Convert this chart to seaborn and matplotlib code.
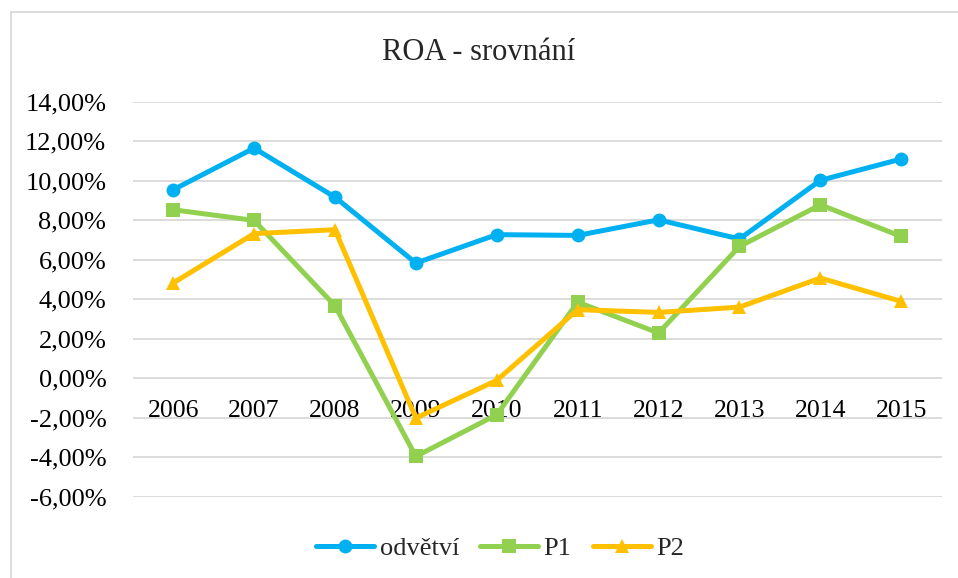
import matplotlib
matplotlib.use("Agg")
import matplotlib.pyplot as plt
import seaborn as sns
import pandas as pd
from matplotlib.ticker import FuncFormatter
from matplotlib.patches import Rectangle

years = ["2006", "2007", "2008", "2009", "2010", "2011", "2012", "2013", "2014", "2015"]
odvetvi = [9.54, 11.65, 9.17, 5.83, 7.27, 7.23, 8.02, 7.05, 10.02, 11.10]
p1 = [8.53, 7.99, 3.67, -3.96, -1.85, 3.85, 2.29, 6.67, 8.78, 7.18]
p2 = [4.82, 7.32, 7.52, -2.02, -0.11, 3.47, 3.33, 3.60, 5.07, 3.89]
series_names = ["odvětví", "P1", "P2"]
colors = ["#00B0F0", "#92D050", "#FFC000"]
markers = ["o", "s", "^"]

rows = []
for name, vals in zip(series_names, [odvetvi, p1, p2]):
    for i, (y, v) in enumerate(zip(years, vals)):
        rows.append({"idx": i, "year": y, "value": v, "series": name})
df = pd.DataFrame(rows)

sns.set_style("white")
plt.rcParams["font.family"] = ["Liberation Serif", "DejaVu Serif"]

fig = plt.figure(figsize=(9.58, 5.78), dpi=100)
ax = fig.add_axes([0.1385, 0.1407, 0.983 - 0.1385, 0.824 - 0.1407])

sns.lineplot(data=df, x="idx", y="value", hue="series", style="series",
             palette=colors, markers=markers, dashes=False, linewidth=3.6,
             markersize=10, markeredgewidth=0, ax=ax, sort=False)

ax.set_xlim(-0.5, len(years) - 0.5)
ax.set_ylim(-6, 14)
ax.set_yticks(range(-6, 15, 2))
ax.yaxis.set_major_formatter(FuncFormatter(lambda v, p: f"{v:.2f}%".replace(".", ",")))
ax.grid(axis="y", color="#D9D9D9", linewidth=1.3)
ax.set_axisbelow(True)
for s in ax.spines.values():
    s.set_visible(False)
ax.spines["bottom"].set_position(("data", 0))
ax.set_xticks(range(len(years)))
ax.set_xticklabels(years)
ax.tick_params(axis="x", length=0, pad=16, labelsize=18.5, colors="black")
ax.tick_params(axis="y", length=0, pad=19, labelsize=19, colors="black")
ax.set_xlabel("")
ax.set_ylabel("")

fig.text(0.5, 0.91, "ROA - srovnání", ha="center", va="center", fontsize=22)

handles, labels = ax.get_legend_handles_labels()
ax.legend(handles, labels, loc="center", bbox_to_anchor=(500 / 958, 1 - 548 / 578),
          bbox_transform=fig.transFigure, ncol=3, frameon=False, fontsize=19,
          handlelength=2.2, handletextpad=0.2, columnspacing=0.8)

fig.patches.append(Rectangle((10.5 / 958, -0.1), 1.2, 1 - 11.5 / 578 + 0.1,
                             transform=fig.transFigure, fill=False,
                             edgecolor="#D9D9D9", linewidth=1.3, zorder=0))

fig.savefig("out.png", dpi=100)
